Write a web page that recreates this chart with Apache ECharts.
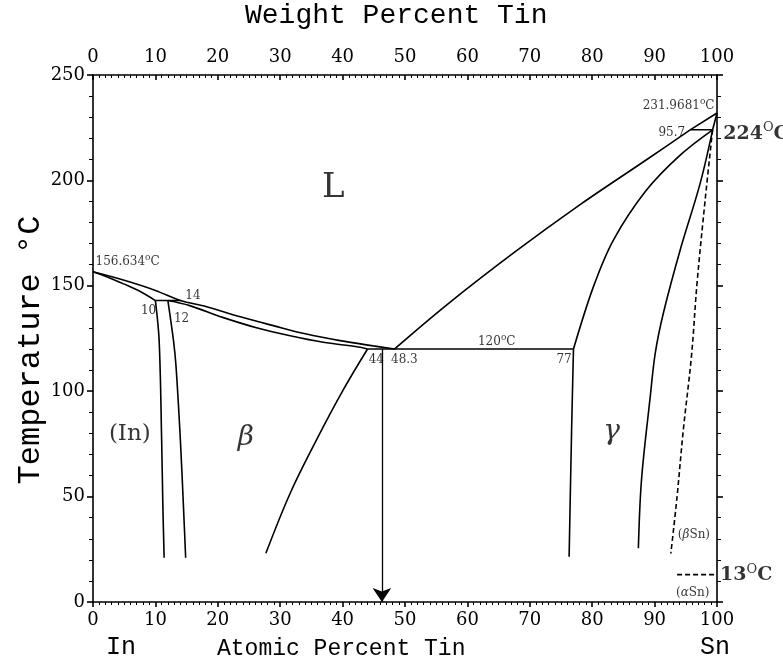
<!DOCTYPE html>
<html>
<head>
<meta charset="utf-8">
<script src="https://cdn.jsdelivr.net/npm/echarts@6/dist/echarts.min.js"></script>
<style>
  html, body { margin: 0; padding: 0; background: #fff; }
  #chart { width: 783px; height: 670px; }
</style>
</head>
<body>
<div id="chart"></div>
<script>
// In–Sn phase diagram. x: atomic percent Sn, y: temperature in °C.

// Tick labels
const atomicTicks = [0, 10, 20, 30, 40, 50, 60, 70, 80, 90, 100];
const weightTicks = [0, 10, 20, 30, 40, 50, 60, 70, 80, 90, 100];
const tempTicks = [0, 50, 100, 150, 200, 250];

// Invariant temperatures (°C)
const inMelt = 156.634;
const snMelt = 231.9681;
const periLow = 143;
const eutectic = 120;
const periHigh = 224;
const alphaBeta = 13;

// Phase boundaries: [at.% Sn, °C]
const liquidusIn = [[0, inMelt], [5, 152.6], [10, 147.8], [14, periLow], [18.2, 140.1], [23.6, 135.3],
  [28.9, 131.1], [34.2, 127.1], [39.6, 124.0], [44.9, 121.5], [48.3, eutectic]];
const solidusIn = [[0, inMelt], [2.2, 154.3], [5, 150.8], [7.5, 147.4], [10, periLow]];
const peritecticLow = [[10, periLow], [14, periLow]];
const solidusBeta = [[12, periLow], [15.5, 140.6], [20.9, 134.9], [26.2, 130.1], [31.6, 126.3],
  [36.9, 123.2], [42.3, 121.1], [44, eutectic]];
const solvusIn = [[10, periLow], [10.6, 124], [11.0, 77], [11.2, 45], [11.4, 21]];
const solvusBetaLow = [[12, periLow], [12.9, 124], [13.3, 112], [14.0, 77], [14.5, 45], [14.85, 21]];
const solvusBetaHigh = [[44, eutectic], [40.1, 100.6], [35.8, 76.8], [31.6, 51.6], [27.7, 23.1]];
const eutecticLine = [[44, eutectic], [77, eutectic]];
const liquidusSn = [[48.3, eutectic], [56.7, 141], [67.4, 165.6], [78.0, 188.4], [88.7, 209.8], [95.7, periHigh]];
const liquidusTop = [[95.7, periHigh], [100, snMelt]];
const peritecticHigh = [[95.7, periHigh], [99.3, periHigh]];
const solidusSn = [[99.3, periHigh], [100, snMelt]];
const gammaLeftHigh = [[77, eutectic], [80.2, 149.6], [83.4, 171.7], [88.7, 195.4], [94.1, 212], [99.3, periHigh]];
const gammaLeftLow = [[77, eutectic], [76.7, 81.6], [76.3, 21.5]];
const gammaRight = [[99.3, periHigh], [97.3, 198.6], [94.1, 167], [91.4, 137], [90.1, 118], [89.3, 97.4],
  [87.9, 57.9], [87.4, 25.5]];
const solvusBetaSn = [[99.3, periHigh], [98.1, 190.7], [96.8, 151.2], [95.9, 116.4], [94.6, 81.6],
  [93.6, 50], [92.6, 23]];
const alphaBetaLine = [[93.6, alphaBeta], [100, alphaBeta]];
const alloyArrow = [[46.3, eutectic], [46.3, 0]];

const SERIF = '"DejaVu Serif", "Liberation Serif", serif';
const MONO = '"Liberation Mono", "DejaVu Sans Mono", monospace';

function boundary(pts, smooth, dashed) {
  return {
    type: 'line', data: pts, symbol: 'none', smooth: smooth ? 0.35 : false,
    lineStyle: { color: '#000', width: 1.6, type: dashed ? [5, 3] : 'solid' },
    silent: true, animation: false, z: 3
  };
}

const supRich = {
  s: { fontFamily: SERIF, fontSize: 12, color: '#000' },
  o: { fontFamily: SERIF, fontSize: 9, color: '#000', verticalAlign: 'top', padding: [0, 0, 8, 0] },
  b: { fontFamily: SERIF, fontSize: 19, color: '#000', fontWeight: 'bold' },
  bo: { fontFamily: SERIF, fontSize: 13, color: '#000', verticalAlign: 'top', padding: [0, 0, 11, 0] }
};

// Text annotations placed in data coordinates
const notes = [
  { at: [0.4, 161.3], text: '{s|156.634}{o|o}{s|C}', align: 'left' },
  { at: [14.8, 145.4], text: '{s|14}', align: 'left' },
  { at: [8.9, 138], text: '{s|10}', align: 'center' },
  { at: [14.2, 134.2], text: '{s|12}', align: 'center' },
  { at: [45.4, 115], text: '{s|44}', align: 'center' },
  { at: [49.9, 115], text: '{s|48.3}', align: 'center' },
  { at: [64.7, 123.3], text: '{s|120}{o|o}{s|C}', align: 'center' },
  { at: [75.5, 115], text: '{s|77}', align: 'center' },
  { at: [99.6, 235.4], text: '{s|231.9681}{o|o}{s|C}', align: 'right' },
  { at: [94.9, 222.7], text: '{s|95.7}', align: 'right' },
  { at: [101.0, 222.2], text: '{b|224}{bo|O}{b|C}', align: 'left' },
  { at: [100.5, 12.8], text: '{b|13}{bo|O}{b|C}', align: 'left' },
  { at: [96.3, 32], text: '{s|(}{i|β}{s|Sn)}', align: 'center' },
  { at: [96.1, 4.5], text: '{s|(}{i|α}{s|Sn)}', align: 'center' },
  { at: [38.5, 196.4], text: '{big|L}', align: 'center' },
  { at: [5.9, 79.7], text: '{ph|(In)}', align: 'center' },
  { at: [24.5, 78], text: '{gr|β}', align: 'center' },
  { at: [83.1, 80.9], text: '{gr|γ}', align: 'center' }
];

const noteRich = Object.assign({}, supRich, {
  i: { fontFamily: SERIF, fontSize: 12, fontStyle: 'italic', color: '#000' },
  big: { fontFamily: SERIF, fontSize: 34, color: '#000' },
  ph: { fontFamily: SERIF, fontSize: 23, color: '#000' },
  gr: { fontFamily: SERIF, fontSize: 28, fontStyle: 'italic', color: '#000' }
});

const noteSeries = {
  type: 'scatter', symbolSize: 0, silent: true, animation: false, clip: false, z: 5,
  data: notes.map(n => ({
    value: n.at,
    label: {
      show: true, position: 'inside', formatter: n.text, align: n.align,
      verticalAlign: 'middle', rich: noteRich
    }
  }))
};

const arrowSeries = {
  type: 'lines', coordinateSystem: 'cartesian2d', silent: true, animation: false, z: 4,
  symbol: ['none', 'arrow'], symbolSize: [7, 14],
  lineStyle: { color: '#000', width: 1.3, opacity: 1 },
  data: [{ coords: alloyArrow }]
};

function tickFormatter(list) {
  return v => (list.indexOf(v) >= 0 ? String(v) : '');
}

const axisText = { fontFamily: SERIF, fontSize: 18, color: '#000' };
const lineStyle = { color: '#000', width: 1.6 };

const option = {
  backgroundColor: '#fff',
  animation: false,
  grid: { left: 93, right: 66, top: 75, bottom: 68, containLabel: false },
  xAxis: [
    {
      type: 'value', position: 'bottom', min: 0, max: 100, interval: 10,
      axisLine: { show: true, onZero: false, lineStyle },
      axisTick: { show: true, inside: false, length: 5, lineStyle },
      minorTick: { show: true, splitNumber: 10, length: 3, lineStyle: { color: '#000', width: 1 } },
      splitLine: { show: false },
      axisLabel: Object.assign({ margin: 9, formatter: tickFormatter(atomicTicks) }, axisText)
    },
    {
      type: 'value', position: 'top', min: 0, max: 100, interval: 10,
      axisLine: { show: true, onZero: false, lineStyle },
      axisTick: { show: true, inside: true, length: 5, lineStyle },
      minorTick: { show: true, splitNumber: 10, length: 3, lineStyle: { color: '#000', width: 1 } },
      splitLine: { show: false },
      axisLabel: Object.assign({ margin: 9, formatter: tickFormatter(weightTicks) }, axisText)
    }
  ],
  yAxis: [
    {
      type: 'value', position: 'left', min: 0, max: 250, interval: 50,
      axisLine: { show: true, onZero: false, lineStyle },
      axisTick: { show: true, inside: false, length: 6, lineStyle },
      minorTick: { show: true, splitNumber: 5, length: 4, lineStyle: { color: '#000', width: 1 } },
      splitLine: { show: false },
      axisLabel: Object.assign({ margin: 8, formatter: tickFormatter(tempTicks) }, axisText)
    },
    {
      type: 'value', position: 'right', min: 0, max: 250, interval: 50,
      axisLine: { show: true, onZero: false, lineStyle },
      axisTick: { show: true, inside: false, length: 6, lineStyle },
      minorTick: { show: true, splitNumber: 5, length: 4, lineStyle: { color: '#000', width: 1 } },
      splitLine: { show: false },
      axisLabel: { show: false }
    }
  ],
  graphic: [
    { type: 'text', left: 245, top: 2, style: { text: 'Weight Percent Tin', font: '28px ' + MONO, fill: '#000' } },
    { type: 'text', left: 217, top: 637, style: { text: 'Atomic Percent Tin', font: '23px ' + MONO, fill: '#000' } },
    { type: 'text', left: 106, top: 635, style: { text: 'In', font: '25px ' + MONO, fill: '#000' } },
    { type: 'text', left: 700, top: 635, style: { text: 'Sn', font: '25px ' + MONO, fill: '#000' } },
    {
      type: 'text', x: 31, y: 350, rotation: Math.PI / 2,
      style: { text: 'Temperature °C', font: '32px ' + MONO, fill: '#000', align: 'center', verticalAlign: 'middle' }
    }
  ],
  series: [
    boundary(liquidusIn, true),
    boundary(solidusIn, true),
    boundary(peritecticLow, false),
    boundary(solidusBeta, true),
    boundary(solvusIn, true),
    boundary(solvusBetaLow, true),
    boundary(solvusBetaHigh, true),
    boundary(eutecticLine, false),
    boundary(liquidusSn, true),
    boundary(liquidusTop, false),
    boundary(peritecticHigh, false),
    boundary(solidusSn, false),
    boundary(gammaLeftHigh, true),
    boundary(gammaLeftLow, true),
    boundary(gammaRight, true),
    boundary(solvusBetaSn, true, true),
    boundary(alphaBetaLine, false, true),
    arrowSeries,
    noteSeries
  ]
};

const chart = echarts.init(document.getElementById('chart'), null, { renderer: 'canvas' });
chart.setOption(option);
</script>
</body>
</html>
